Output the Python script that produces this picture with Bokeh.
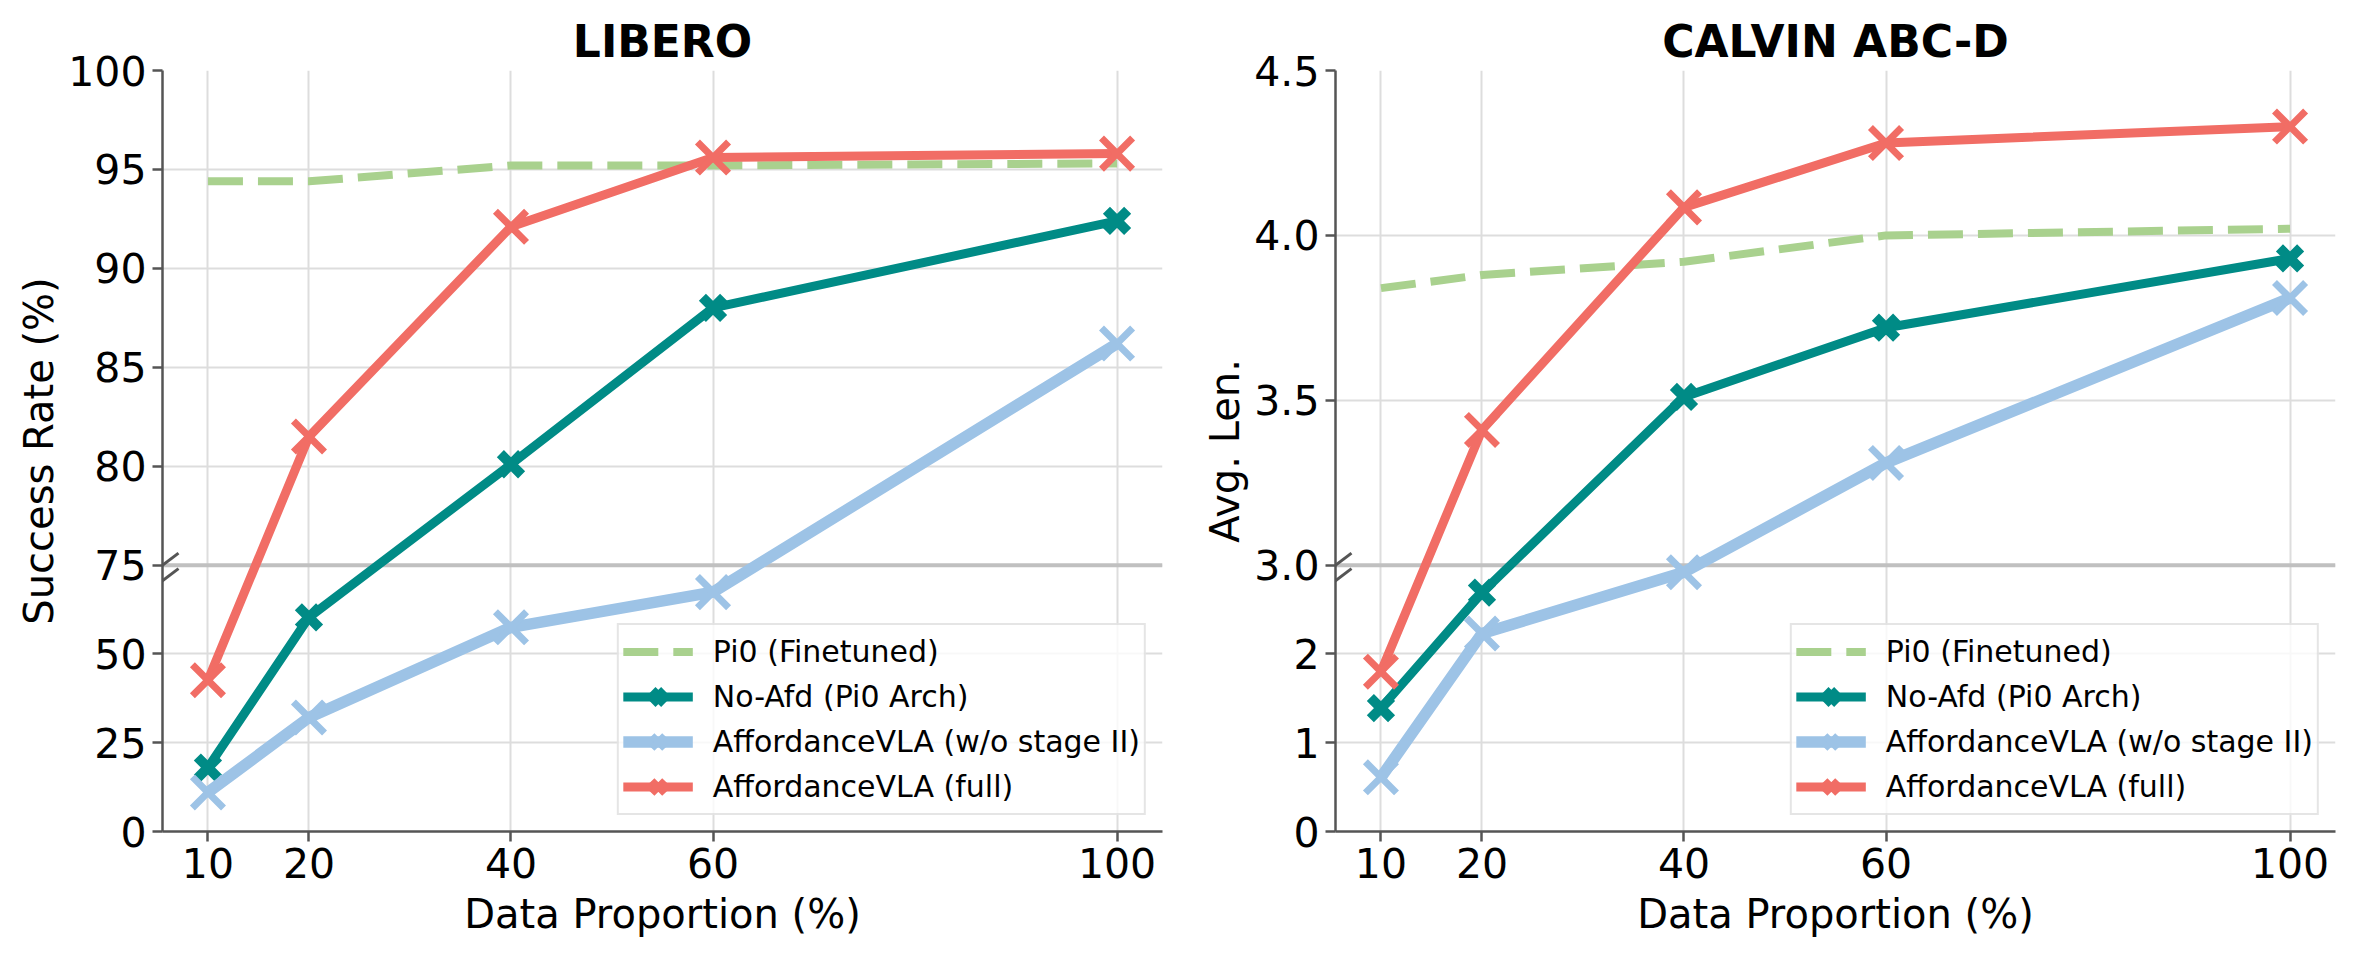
from bokeh.plotting import figure
from bokeh.layouts import row
from bokeh.models import (ColumnDataSource, CustomJSTransform, FixedTicker, Span,
                          Arrow, Range1d)
from bokeh.transform import transform
from bokeh.embed import file_html
from bokeh.resources import INLINE

# ---- data -----------------------------------------------------------------
data_proportion = [10, 20, 40, 60, 100]
x_ticks = [10, 20, 40, 60, 100]

series_names = ["Pi0 (Finetuned)", "No-Afd (Pi0 Arch)",
                "AffordanceVLA (w/o stage II)", "AffordanceVLA (full)"]

libero_pi0 = [94.4, 94.4, 95.2, 95.2, 95.3]
libero_no_afd = [18.0, 60.3, 80.1, 88.0, 92.4]
libero_wo_stage2 = [11.0, 32.1, 57.5, 67.4, 86.2]
libero_full = [42.6, 81.5, 92.1, 95.6, 95.8]

calvin_pi0 = [3.84, 3.88, 3.92, 4.00, 4.02]
calvin_no_afd = [1.39, 2.69, 3.51, 3.72, 3.93]
calvin_wo_stage2 = [0.61, 2.23, 2.92, 3.31, 3.81]
calvin_full = [1.80, 3.41, 4.085, 4.28, 4.33]

libero_y_ticks = [0, 25, 50, 75, 80, 85, 90, 95, 100]
libero_y_labels = ["0", "25", "50", "75", "80", "85", "90", "95", "100"]
calvin_y_ticks = [0, 1, 2, 3.0, 3.5, 4.0, 4.5]
calvin_y_labels = ["0", "1", "2", "3.0", "3.5", "4.0", "4.5"]

# ---- styling --------------------------------------------------------------
FONT = "DejaVu Sans"
COLORS = ["#A9D18E", "#008B86", "#9DC3E6", "#F16D65"]
WIDTHS = [8, 9, 11.5, 9]
DASHES = ["35 15", "solid", "solid", "solid"]
MARKER_SIZE = [None, 30, 44, 44]
MARKER_LW = [None, 10, 7, 7]
LOWER_FRAC = 0.35          # share of the axis height given to the compressed lower part
X_START, X_END = 5.5, 104.5
FRAME_W, FRAME_H = 1000, 761


def axis_pos(v, brk, top):
    """Position on the broken axis (0..1) of a value."""
    if v < brk:
        return LOWER_FRAC * v / brk
    return LOWER_FRAC + (1 - LOWER_FRAC) * (v - brk) / (top - brk)


def make_panel(title, ylabel, series, brk, top, y_ticks, y_labels,
               border_left, border_right):
    tf = CustomJSTransform(
        args=dict(b=brk, t=top, f=LOWER_FRAC),
        func="return x < b ? f * x / b : f + (1 - f) * (x - b) / (t - b)",
        v_func="return Array.from(xs, (v) => v < b ? f * v / b : f + (1 - f) * (v - b) / (t - b))",
    )

    p = figure(frame_width=FRAME_W, frame_height=FRAME_H,
               x_range=Range1d(X_START, X_END), y_range=Range1d(0, 1),
               min_border_left=border_left, min_border_right=border_right,
               min_border_top=70, min_border_bottom=127,
               output_backend="svg", toolbar_location=None)
    p.outline_line_color = None
    p.background_fill_color = "white"
    p.border_fill_color = "white"

    p.title.text = title
    p.title.align = "center"
    p.title.text_font = FONT
    p.title.text_font_style = "bold"
    p.title.text_font_size = "44px"
    p.title.text_color = "black"
    p.title.standoff = 8

    # grids
    p.xgrid.ticker = FixedTicker(ticks=x_ticks)
    p.grid.grid_line_color = "#DDDDDD"
    p.grid.grid_line_width = 2

    # axes
    p.xaxis.ticker = FixedTicker(ticks=x_ticks)
    pos_ticks = [axis_pos(v, brk, top) for v in y_ticks]
    p.yaxis.ticker = FixedTicker(ticks=pos_ticks)
    p.yaxis.major_label_overrides = {t: lab for t, lab in zip(pos_ticks, y_labels)}
    p.xaxis.axis_label = "Data Proportion (%)"
    p.yaxis.axis_label = ylabel
    for ax in (p.xaxis, p.yaxis):
        ax.axis_line_color = "#555555"
        ax.axis_line_width = 2.5
        ax.major_tick_line_color = "#555555"
        ax.major_tick_line_width = 2.5
        ax.major_tick_out = 10
        ax.major_tick_in = 0
        ax.minor_tick_line_color = None
        ax.major_label_text_font = FONT
        ax.major_label_text_font_size = "41px"
        ax.major_label_text_color = "black"
        ax.axis_label_text_font = FONT
        ax.axis_label_text_font_size = "40px"
        ax.axis_label_text_font_style = "normal"
        ax.axis_label_text_color = "black"
    p.xaxis.major_label_standoff = 6
    p.yaxis.major_label_standoff = 6
    p.xaxis.axis_label_standoff = 10
    p.yaxis.axis_label_standoff = 3

    # break line across the plot
    p.add_layout(Span(location=axis_pos(brk, brk, top), dimension="width",
                      line_color="#C0C0C0", line_width=4, level="underlay"))

    # series
    for i, (name, vals) in enumerate(zip(series_names, series)):
        src = ColumnDataSource(dict(x=data_proportion, y=vals))
        p.line("x", transform("y", tf), source=src, line_color=COLORS[i],
               line_width=WIDTHS[i], line_dash=DASHES[i], legend_label=name)
        if MARKER_SIZE[i]:
            p.scatter("x", transform("y", tf), source=src, marker="x",
                      size=MARKER_SIZE[i], line_color=COLORS[i],
                      line_width=MARKER_LW[i], legend_label=name)

    # "//" break marks on the y spine
    px_x = (X_END - X_START) / FRAME_W
    px_y = 1.0 / FRAME_H
    y_b = axis_pos(brk, brk, top)
    for off in (0, 15.5):
        yc = y_b - off * px_y
        p.add_layout(Arrow(end=None, x_start=X_START - 16 * px_x, y_start=yc - 12 * px_y,
                           x_end=X_START + 16 * px_x, y_end=yc + 12 * px_y,
                           line_color="#555555", line_width=3))

    lg = p.legend[0]
    lg.location = "bottom_right"
    lg.margin = 16
    lg.padding = 4
    lg.spacing = 0
    lg.glyph_width = 70
    lg.glyph_height = 45
    lg.label_height = 40
    lg.label_standoff = 20
    lg.label_text_font = FONT
    lg.label_text_font_size = "30px"
    lg.label_text_color = "black"
    lg.border_line_color = "#CCCCCC"
    lg.border_line_width = 2
    lg.background_fill_alpha = 0.8
    return p


left = make_panel("LIBERO", "Success Rate (%)",
                  [libero_pi0, libero_no_afd, libero_wo_stage2, libero_full],
                  75, 100, libero_y_ticks, libero_y_labels, 162, 16)
right = make_panel("CALVIN ABC-D", "Avg. Len.",
                   [calvin_pi0, calvin_no_afd, calvin_wo_stage2, calvin_full],
                   3.0, 4.5, calvin_y_ticks, calvin_y_labels, 157, 22)

layout = row(left, right)
open("out.html", "w").write(file_html(layout, INLINE))
